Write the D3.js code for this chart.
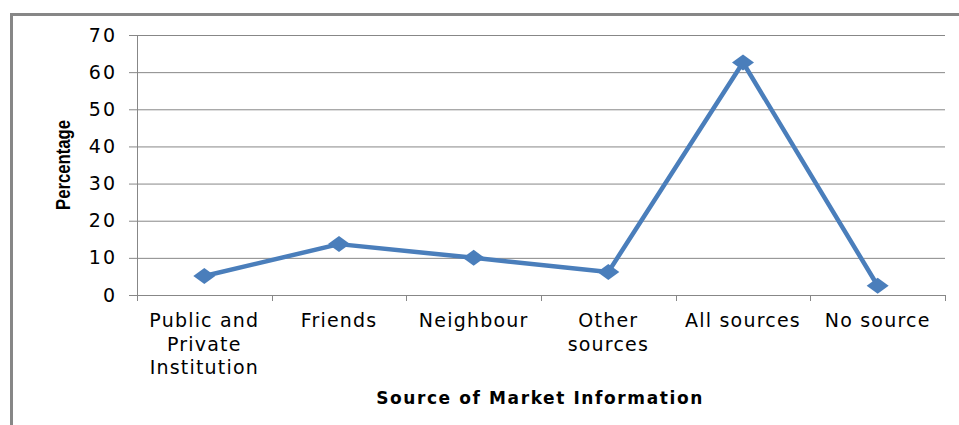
<!DOCTYPE html>
<html>
<head>
<meta charset="utf-8">
<script src="https://cdn.jsdelivr.net/npm/d3@7"></script>
<style>
  body { margin: 0; background: #fff; }
  text { fill: #000; }
</style>
</head>
<body>
<div id="plot"></div>
<script>
// chart data
const categories = [["Public and", "Private", "Institution"], ["Friends"], ["Neighbour"],
  ["Other", "sources"], ["All sources"], ["No source"]];
const values = [5.1, 13.7, 10, 6.2, 62.6, 2.5];
const yTicks = [0, 10, 20, 30, 40, 50, 60, 70];

const w = 959;
const h = 425;
const margin = {top: 35, right: 14, bottom: 130, left: 137};
const innerWidth = w - margin.left - margin.right;
const innerHeight = h - margin.top - margin.bottom;

const svg = d3.select("#plot")
  .append("svg")
    .attr("width", w)
    .attr("height", h);

// outer frame (runs off the right and bottom edge)
svg.append("path")
    .attr("d", `M11.5,${h + 5} L11.5,14.5 L${w + 5},14.5`)
    .attr("fill", "none")
    .attr("stroke", "#878787")
    .attr("stroke-width", 3);

const labels = categories.map(d => d.join(" "));

const xScale = d3.scaleBand()
    .domain(labels)
    .range([0, innerWidth]);

const yScale = d3.scaleLinear()
    .domain([0, 70])
    .range([innerHeight, 0]);

const g = svg.append("g")
    .attr("transform", `translate(${margin.left}, ${margin.top})`);

// gridlines
g.append("g")
  .selectAll("line")
  .data(yTicks.filter(d => d > 0))
  .enter().append("line")
    .attr("x1", 0)
    .attr("x2", innerWidth)
    .attr("y1", d => yScale(d) + 0.5)
    .attr("y2", d => yScale(d) + 0.5)
    .attr("stroke", "#878787")
    .attr("stroke-width", 1);

// y axis
const yAxis = d3.axisLeft(yScale)
    .tickValues(yTicks)
    .tickSize(8)
    .tickPadding(12);

const yg = g.append("g")
    .attr("class", "yAxis")
    .call(yAxis);
yg.select(".domain").remove();
yg.selectAll("line").attr("stroke", "#878787");
yg.append("line")
    .attr("x1", 0.5).attr("x2", 0.5)
    .attr("y1", 0).attr("y2", innerHeight + 6)
    .attr("stroke", "#878787");
yg.selectAll("text")
    .attr("font-family", "DejaVu Sans")
    .attr("font-size", "19px")
    .attr("letter-spacing", "2px")
    .attr("fill", "#000");

// x axis
const xg = g.append("g")
    .attr("class", "xAxis")
    .attr("transform", `translate(0, ${innerHeight})`);

xg.append("line")
    .attr("x1", 0).attr("x2", innerWidth)
    .attr("y1", 0.5).attr("y2", 0.5)
    .attr("stroke", "#878787");

const bounds = labels.map(d => xScale(d)).concat([innerWidth]);
xg.selectAll(".tick")
  .data(bounds)
  .enter().append("line")
    .attr("x1", d => Math.round(d) + 0.5)
    .attr("x2", d => Math.round(d) + 0.5)
    .attr("y1", 0)
    .attr("y2", 6)
    .attr("stroke", "#878787");

const catText = xg.selectAll(".cat")
  .data(categories)
  .enter().append("text")
    .attr("class", "cat")
    .attr("text-anchor", "middle")
    .attr("font-family", "DejaVu Sans")
    .attr("font-size", "19px")
    .attr("letter-spacing", "1.2px")
    .attr("transform", (d, i) => `translate(${xScale(labels[i]) + xScale.bandwidth() / 2}, 32)`);

catText.selectAll("tspan")
  .data(d => d)
  .enter().append("tspan")
    .attr("x", 0)
    .attr("y", (d, i) => i * 23.5)
    .text(d => d);

// line + markers
const pts = values.map((v, i) => ({x: xScale(labels[i]) + xScale.bandwidth() / 2, y: yScale(v)}));

g.append("path")
    .datum(pts)
    .attr("fill", "none")
    .attr("stroke", "#4a7ebb")
    .attr("stroke-width", 4.5)
    .attr("stroke-linejoin", "round")
    .attr("d", d3.line().x(d => d.x).y(d => d.y));

g.selectAll(".marker")
  .data(pts)
  .enter().append("path")
    .attr("class", "marker")
    .attr("d", d => `M${d.x - 11},${d.y} L${d.x},${d.y - 8} L${d.x + 11},${d.y} L${d.x},${d.y + 8} Z`)
    .attr("fill", "#4a7ebb");

// axis titles
svg.append("text")
    .attr("transform", "translate(70, 165) rotate(-90)")
    .attr("text-anchor", "middle")
    .attr("font-family", "Liberation Sans")
    .attr("font-weight", "bold")
    .attr("font-size", "21px")
    .attr("textLength", 90)
    .attr("lengthAdjust", "spacingAndGlyphs")
    .text("Percentage");

svg.append("text")
    .attr("x", 540)
    .attr("y", 404)
    .attr("text-anchor", "middle")
    .attr("font-family", "DejaVu Sans")
    .attr("font-weight", "bold")
    .attr("font-size", "17px")
    .attr("letter-spacing", "1.6px")
    .text("Source of Market Information");
</script>
</body>
</html>
